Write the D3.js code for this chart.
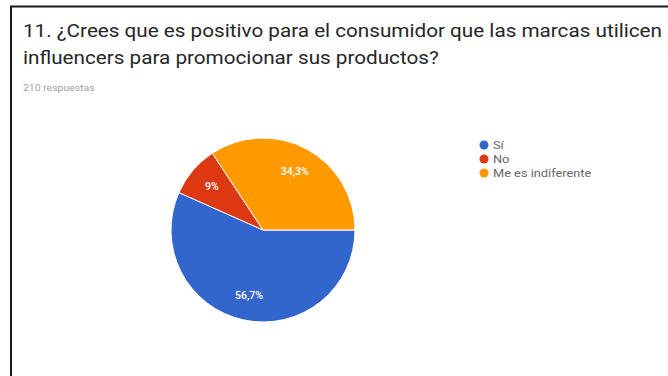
<!DOCTYPE html>
<html>
<head>
<meta charset="utf-8">
<script src="https://cdn.jsdelivr.net/npm/d3@7"></script>
<style>
  html, body { margin: 0; padding: 0; background: #fff; }
  svg { display: block; }
</style>
</head>
<body>
<svg id="chart" width="668" height="376"></svg>
<script>
// Survey responses (210 in total)
const categories = ["Sí", "No", "Me es indiferente"];
const counts = [119, 19, 72];
const percentLabels = ["56,7%", "9%", "34,3%"];
const colors = ["#3366cc", "#dc3912", "#ff9900"];

const titleLines = [
  "11. ¿Crees que es positivo para el consumidor que las marcas utilicen",
  "influencers para promocionar sus productos?"
];
const subtitle = "210 respuestas";

const svg = d3.select("#chart");

// card frame
svg.append("path")
  .attr("d", "M11,376 V6.5 H668")
  .attr("fill", "none")
  .attr("stroke", "#1a1a1a")
  .attr("stroke-width", 2);

// title and response count (wide text face: stretched horizontally)
svg.selectAll("text.title")
  .data(titleLines)
  .join("text")
  .attr("class", "title")
  .attr("transform", (d, i) => `translate(23,${37 + i * 27}) scale(1.15,1)`)
  .attr("font-family", "Roboto, sans-serif")
  .attr("font-size", 18)
  .attr("fill", "#262626")
  .text(d => d);

svg.append("text")
  .attr("transform", "translate(23,91) scale(1.1,1)")
  .attr("font-family", "Roboto, sans-serif")
  .attr("font-size", 9.5)
  .attr("fill", "#a0a0a0")
  .text(subtitle);

// pie
const cx = 263, cy = 230, r = 92;
const pie = d3.pie()
  .sort(null)
  .value(d => d)
  .startAngle(Math.PI / 2)
  .endAngle(Math.PI / 2 + 2 * Math.PI);
const arcs = pie(counts);
const arc = d3.arc().innerRadius(0).outerRadius(r);
const labelArc = d3.arc().innerRadius(r * 0.73).outerRadius(r * 0.73);

const g = svg.append("g").attr("transform", `translate(${cx},${cy})`);
g.selectAll("path")
  .data(arcs)
  .join("path")
  .attr("d", arc)
  .attr("fill", (d, i) => colors[i])
  .attr("stroke", "#ffffff")
  .attr("stroke-width", 1);

g.selectAll("text")
  .data(arcs)
  .join("text")
  .attr("transform", d => `translate(${labelArc.centroid(d)})`)
  .attr("text-anchor", "middle")
  .attr("dy", "0.35em")
  .attr("font-family", "Roboto, sans-serif")
  .attr("font-size", 10.5)
  .attr("font-weight", 500)
  .attr("fill", "#ffffff")
  .text((d, i) => percentLabels[i]);

// legend
const legend = svg.append("g").attr("transform", "translate(484,145)");
const item = legend.selectAll("g")
  .data(categories)
  .join("g")
  .attr("transform", (d, i) => `translate(0,${i * 14})`);
item.append("circle")
  .attr("r", 4.5)
  .attr("fill", (d, i) => colors[i]);
item.append("text")
  .attr("transform", "translate(9,0) scale(1.28,1)")
  .attr("dy", "0.35em")
  .attr("font-family", "Roboto, sans-serif")
  .attr("font-size", 10)
  .attr("fill", "#666")
  .text(d => d);
</script>
</body>
</html>
